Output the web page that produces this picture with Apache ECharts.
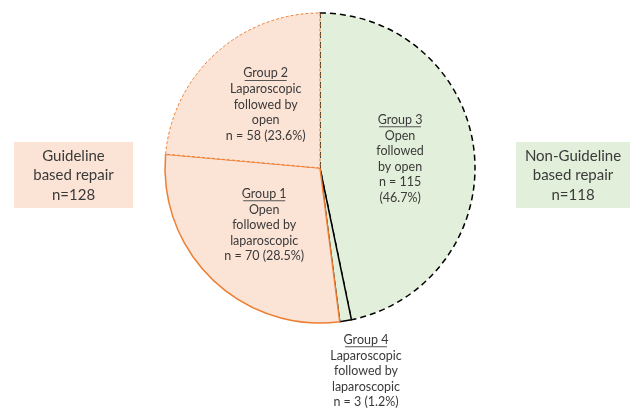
<!DOCTYPE html>
<html><head><meta charset="utf-8">
<script src="https://cdn.jsdelivr.net/npm/echarts@6/dist/echarts.min.js"></script>
<style>html,body{margin:0;padding:0;background:#fff}#c{width:635px;height:410px}</style>
</head><body><div id="c"></div>
<script>
// Data (pie order: clockwise from 12 o'clock)
const groups = ['Group 3', 'Group 4', 'Group 1', 'Group 2'];
const counts = [115, 3, 70, 58];
const percents = ['46.7%', '1.2%', '28.5%', '23.6%'];
const labelLines = [
  ['Open', 'followed', 'by open', 'n = 115', '(46.7%)'],
  ['Laparoscopic', 'followed by', 'laparoscopic', 'n = 3 (1.2%)'],
  ['Open', 'followed by', 'laparoscopic', 'n = 70 (28.5%)'],
  ['Laparoscopic', 'followed by', 'open', 'n = 58 (23.6%)']
];
const sideBoxes = [
  ['Guideline', 'based repair', 'n=128'],
  ['Non-Guideline', 'based repair', 'n=118']
];

const PEACH = '#fbe3d6', GREEN = '#e2efda', ORANGE = '#ed7d31', TEXT = '#3a3a3a';
const FONT = 'Lato';

const styles = [
  { color: GREEN, borderColor: '#000', borderWidth: 1.5, borderType: [6, 4] },
  { color: GREEN, borderColor: '#000', borderWidth: 1.5, borderType: 'solid' },
  { color: PEACH, borderColor: ORANGE, borderWidth: 1.5, borderType: 'solid' },
  { color: PEACH, borderColor: ORANGE, borderWidth: 1, borderType: [3, 2] }
];

const chart = echarts.init(document.getElementById('c'), null, { renderer: 'canvas' });

const data = groups.map((g, i) => ({
  name: g,
  value: counts[i],
  itemStyle: styles[i],
  label: {
    formatter: '{g|' + g + '}\n{u|}\n' + labelLines[i].map(s => '{t|' + s + '}').join('\n')
  }
}));

const option = {
  animation: false,
  series: [{
    type: 'pie',
    center: [320, 168],
    radius: [0, 155],
    startAngle: 90,
    clockwise: true,
    avoidLabelOverlap: false,
    silent: true,
    emphasis: { disabled: true },
    label: {
      show: true,
      position: 'inside',
      color: TEXT,
      fontFamily: FONT,
      align: 'center',
      rich: {
        g: { fontSize: 12.5, lineHeight: 12, color: TEXT, fontFamily: FONT, align: 'center' },
        u: { width: 42, height: 1, lineHeight: 2, backgroundColor: '#555', align: 'center' },
        t: { fontSize: 12.5, lineHeight: 15.6, color: TEXT, fontFamily: FONT, align: 'center' }
      }
    },
    labelLine: { show: false },
    labelLayout: function (p) {
      if (p.dataIndex === 1) {
        return { x: 366, y: 372, align: 'center', verticalAlign: 'middle' };
      }
      if (p.dataIndex === 3) {
        return { dy: -3 };
      }
      return {};
    },
    data: data
  }],
  graphic: [
    { type: 'rect', shape: { x: 14, y: 142, width: 119, height: 66 }, style: { fill: PEACH } },
    { type: 'text', x: 73.5, y: 175.5, style: { text: sideBoxes[0].join('\n'), fill: TEXT, font: '15px ' + FONT, lineHeight: 19.5, align: 'center', verticalAlign: 'middle' } },
    { type: 'rect', shape: { x: 516, y: 142, width: 114, height: 66 }, style: { fill: GREEN } },
    { type: 'text', x: 573, y: 175.5, style: { text: sideBoxes[1].join('\n'), fill: TEXT, font: '15px ' + FONT, lineHeight: 19.5, align: 'center', verticalAlign: 'middle' } }
  ]
};
chart.setOption(option);
</script>
</body></html>
